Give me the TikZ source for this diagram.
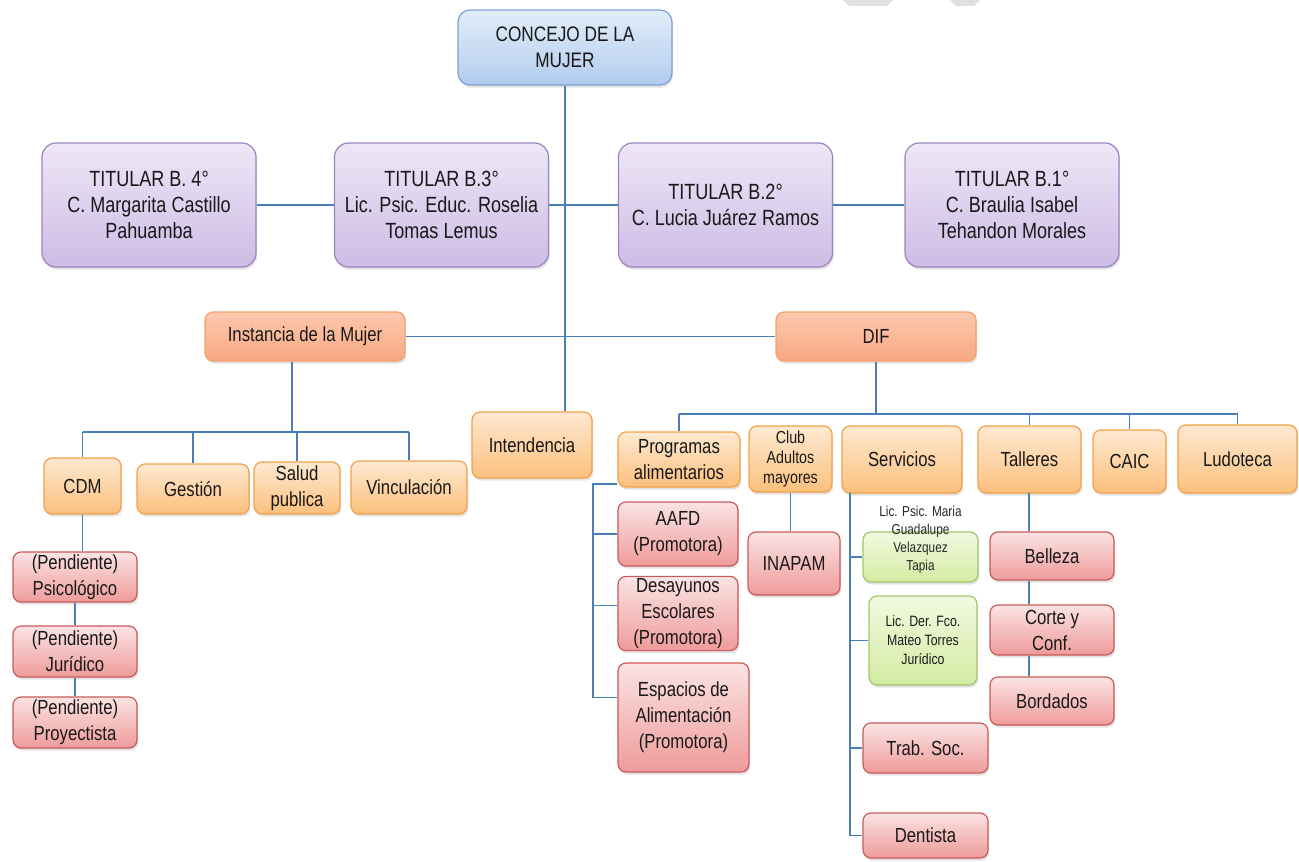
\documentclass[tikz,border=0pt]{standalone}
\usepackage{fontspec}
\setmainfont{Liberation Sans}[FakeStretch=0.82]
\usetikzlibrary{shadows}

\definecolor{linkblue}{HTML}{4A7EBB}
\definecolor{bluetop}{HTML}{E2EDF9}
\definecolor{bluebot}{HTML}{B2CCEE}
\definecolor{blueline}{HTML}{7BA0D4}
\definecolor{purptop}{HTML}{EEE7F6}
\definecolor{purpbot}{HTML}{CDBCE6}
\definecolor{purpline}{HTML}{9A84C0}
\definecolor{salmtop}{HTML}{FCC9AE}
\definecolor{salmbot}{HTML}{F7A882}
\definecolor{salmline}{HTML}{F4A06C}
\definecolor{orgtop}{HTML}{FEE9D2}
\definecolor{orgbot}{HTML}{FBC07C}
\definecolor{orgline}{HTML}{F3A048}
\definecolor{pinktop}{HTML}{FBE3E3}
\definecolor{pinkbot}{HTML}{EF9B9B}
\definecolor{pinkline}{HTML}{C95A58}
\definecolor{greentop}{HTML}{F2F9E0}
\definecolor{greenbot}{HTML}{D4EBA2}
\definecolor{greenline}{HTML}{A3C46A}

\begin{document}
\begin{tikzpicture}[x=0.5pt,y=-0.5pt,
	box/.style={rounded corners=4pt, draw, line width=0.6pt, align=center, inner sep=1pt,
		text=black!90, font=\fontsize{10.2}{13}\selectfont,
		drop shadow={opacity=0.22, shadow xshift=0.6pt, shadow yshift=-1.3pt}},
	bluebox/.style={box, rounded corners=6pt, draw=blueline, top color=bluetop, bottom color=bluebot},
	titbox/.style={box, rounded corners=7pt, draw=purpline, top color=purptop, bottom color=purpbot,
		font=\fontsize{11}{13}\selectfont, minimum width=107pt, minimum height=62pt},
	salmbox/.style={box, draw=salmline, top color=salmtop, bottom color=salmbot},
	orgbox/.style={box, draw=orgline, top color=orgtop, bottom color=orgbot},
	pinkbox/.style={box, draw=pinkline, top color=pinktop, bottom color=pinkbot},
	greenbox/.style={box, draw=greenline, top color=greentop, bottom color=greenbot},
	link/.style={draw=linkblue, line width=0.9pt}]
	\useasboundingbox (0,0) rectangle (1299,861);
	% watermark remains at the top
	\fill[black!12] (843,0) -- (893,0) -- (887,6) -- (849,6) -- cycle;
	\fill[black!12] (950,0) -- (980,0) -- (974,6) -- (956,6) -- cycle;

	% top
	\node[bluebox, font=\fontsize{10.5}{13}\selectfont, minimum width=107pt, minimum height=37.5pt] (concejo) at (565,47.5) {CONCEJO DE LA\\MUJER};
	\node[titbox] (tB4) at (149,205) {TITULAR B. 4°\\C. Margarita Castillo\\Pahuamba};
	\node[titbox] (tB3) at (441.5,205) {TITULAR B.3°\\Lic. Psic. Educ. Roselia\\Tomas Lemus};
	\node[titbox] (tB2) at (725.5,205) {TITULAR B.2°\\C. Lucia Juárez Ramos};
	\node[titbox] (tB1) at (1012,205) {TITULAR B.1°\\C. Braulia Isabel\\Tehandon Morales};

	% instancia and DIF
	\node[salmbox, minimum width=100pt, minimum height=24.5pt] (inst) at (305,336.5) {Instancia de la Mujer};
	\node[salmbox, minimum width=100pt, minimum height=24.5pt] (dif) at (876,336.5) {DIF};
	\node[orgbox, minimum width=60pt, minimum height=33pt] (intend) at (532,445) {Intendencia};

	% instancia branch
	\node[orgbox, minimum width=38.5pt, minimum height=28pt] (cdm) at (82.5,486) {CDM};
	\node[orgbox, minimum width=56pt, minimum height=25pt] (gestion) at (193,489) {Gestión};
	\node[orgbox, minimum width=43pt, minimum height=26pt] (salud) at (297,488) {Salud\\publica};
	\node[orgbox, minimum width=58pt, minimum height=26.5pt] (vinc) at (409,487.5) {Vinculación};
	\node[pinkbox, minimum width=62pt, minimum height=25pt] (pend1) at (75,577) {(Pendiente)\\Psicológico};
	\node[pinkbox, minimum width=62pt, minimum height=25.5pt] (pend2) at (75,651.5) {(Pendiente)\\Jurídico};
	\node[pinkbox, minimum width=62pt, minimum height=25.5pt] (pend3) at (75,722.5) {(Pendiente)\\Proyectista};

	% DIF branch
	\node[orgbox, minimum width=61pt, minimum height=27.5pt] (prog) at (679,459.5) {Programas\\alimentarios};
	\node[orgbox, font=\fontsize{8.7}{10}\selectfont, minimum width=41.5pt, minimum height=33pt] (club) at (790.5,459) {Club\\Adultos\\mayores};
	\node[orgbox, minimum width=60pt, minimum height=33.5pt] (serv) at (902,459.5) {Servicios};
	\node[orgbox, minimum width=51.5pt, minimum height=33.5pt] (tall) at (1029.5,459.5) {Talleres};
	\node[orgbox, minimum width=36.5pt, minimum height=31.5pt] (caic) at (1129.5,461.5) {CAIC};
	\node[orgbox, minimum width=59.5pt, minimum height=34pt] (ludo) at (1237.5,459) {Ludoteca};

	\node[pinkbox, minimum width=60pt, minimum height=32pt] (aafd) at (678,534) {AAFD\\(Promotora)};
	\node[pinkbox, minimum width=60pt, minimum height=36.5pt] (desay) at (678,613.5) {Desayunos\\Escolares\\(Promotora)};
	\node[pinkbox, minimum width=65.5pt, minimum height=54.5pt] (espac) at (683.5,717.5) {Espacios de\\Alimentación\\(Promotora)};
	\node[pinkbox, minimum width=46pt, minimum height=31.5pt] (inapam) at (794,563.5) {INAPAM};

	\node[greenbox, minimum width=57.5pt, minimum height=25pt] (guad) at (920.5,557) {};
	\node[font=\fontsize{7.2}{9}\selectfont, align=center, inner sep=0pt, text=black!85] (guadtxt) at (920.5,540) {Lic. Psic. Maria\\Guadalupe\\Velazquez\\Tapia};
	\node[greenbox, font=\fontsize{7.5}{9.5}\selectfont, minimum width=54pt, minimum height=44.5pt] (mateo) at (923,640.5) {Lic. Der. Fco.\\Mateo Torres\\Jurídico};
	\node[pinkbox, minimum width=62.5pt, minimum height=25pt] (trab) at (925.5,748) {Trab. Soc.};
	\node[pinkbox, minimum width=62.5pt, minimum height=22.5pt] (dentista) at (925.5,835.5) {Dentista};

	\node[pinkbox, minimum width=62pt, minimum height=24pt] (belleza) at (1052,556) {Belleza};
	\node[pinkbox, minimum width=62pt, minimum height=25pt] (corte) at (1052,630) {Corte y\\Conf.};
	\node[pinkbox, minimum width=62pt, minimum height=24pt] (bordados) at (1052,701) {Bordados};

	% connectors
	\coordinate (instbar) at (292,432);
	\coordinate (difbar) at (876,414);
	\coordinate (progbar) at (593,484);
	\coordinate (servbar) at (850,493);
	\coordinate (tallbar) at (1029,493);
	\coordinate (desayw) at ([yshift=4pt]desay.west);
	\coordinate (espacw) at ([yshift=10pt]espac.west);

	\draw[link] (concejo.south) -- (concejo.south |- intend.north);
	\draw[link] (tB4.east) -- (tB3.west);
	\draw[link] (tB3.east) -- (tB2.west);
	\draw[link] (tB2.east) -- (tB1.west);
	\draw[link] (inst.east) -- (dif.west);

	\draw[link] (inst.south -| instbar) -- (instbar);
	\draw[link] (cdm.north |- instbar) -- (vinc.north |- instbar);
	\foreach \n in {cdm,gestion,salud,vinc}
		\draw[link] (\n.north |- instbar) -- (\n.north);
	\draw[link] (cdm.south) -- (cdm.south |- pend1.north);
	\draw[link] (pend1.south) -- (pend2.north);
	\draw[link] (pend2.south) -- (pend3.north);

	\draw[link] (dif.south) -- (difbar);
	\draw[link] (prog.north |- difbar) -- (ludo.north |- difbar);
	\foreach \n in {prog,tall,caic,ludo}
		\draw[link] (\n.north |- difbar) -- (\n.north);

	\draw[link] (progbar -| prog.west) -- (progbar) |- (espacw);
	\draw[link] (progbar |- aafd.west) -- (aafd.west);
	\draw[link] (progbar |- desayw) -- (desayw);
	\draw[link] (club.south) -- (club.south |- inapam.north);

	\draw[link] (servbar) |- (dentista.west);
	\foreach \n in {guad,mateo,trab}
		\draw[link] (servbar |- \n.west) -- (\n.west);

	\draw[link] (tallbar) -- (tallbar |- belleza.north);
	\draw[link] (tallbar |- belleza.south) -- (tallbar |- corte.north);
	\draw[link] (tallbar |- corte.south) -- (tallbar |- bordados.north);
\end{tikzpicture}
\end{document}
